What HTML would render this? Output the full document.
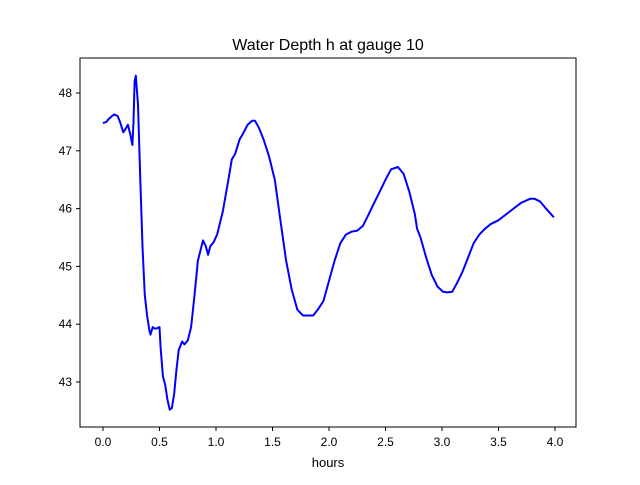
<!DOCTYPE html>
<html><head><meta charset="utf-8"><style>
body{margin:0;background:#fff;}
svg text{font-family:"Liberation Sans","DejaVu Sans",sans-serif;fill:#000;}
</style></head><body>
<svg id="chart" width="640" height="480" xmlns="http://www.w3.org/2000/svg">
<rect width="640" height="480" fill="#fff"/>
<text x="328" y="50" font-size="16" text-anchor="middle">Water Depth h at gauge 10</text>
<g id="plot"></g>
<rect x="80" y="58" width="496" height="369" fill="none" stroke="#000" stroke-width="1"/>
<text x="328" y="467" font-size="13" text-anchor="middle">hours</text>
</svg>
<script>
const times=[0,0.03,0.05,0.08,0.1,0.13,0.15,0.18,0.2,0.22,0.24,0.26,0.27,0.28,0.29,0.31,0.33,0.35,0.37,0.39,0.41,0.42,0.44,0.46,0.48,0.5,0.51,0.53,0.55,0.57,0.59,0.61,0.63,0.65,0.67,0.7,0.72,0.75,0.78,0.81,0.84,0.885,0.91,0.93,0.95,0.98,1.01,1.06,1.11,1.14,1.17,1.21,1.24,1.28,1.32,1.345,1.38,1.42,1.47,1.52,1.57,1.62,1.67,1.72,1.77,1.82,1.86,1.9,1.95,2.0,2.05,2.1,2.15,2.2,2.25,2.3,2.35,2.4,2.45,2.5,2.55,2.61,2.66,2.71,2.76,2.78,2.81,2.86,2.91,2.96,3.01,3.05,3.09,3.13,3.18,3.23,3.28,3.33,3.38,3.43,3.5,3.6,3.7,3.78,3.82,3.87,3.92,3.99];
const depths=[47.48,47.5,47.55,47.6,47.63,47.6,47.5,47.32,47.38,47.45,47.3,47.1,47.5,48.2,48.3,47.8,46.5,45.3,44.5,44.15,43.9,43.82,43.95,43.92,43.93,43.95,43.6,43.1,42.95,42.7,42.52,42.55,42.8,43.2,43.55,43.7,43.65,43.72,43.95,44.5,45.1,45.45,45.35,45.2,45.35,45.42,45.55,45.95,46.5,46.85,46.95,47.2,47.3,47.45,47.52,47.52,47.4,47.2,46.9,46.5,45.8,45.1,44.6,44.25,44.15,44.15,44.15,44.25,44.4,44.75,45.1,45.4,45.55,45.6,45.62,45.7,45.9,46.1,46.3,46.5,46.68,46.72,46.6,46.3,45.9,45.65,45.5,45.15,44.85,44.65,44.56,44.55,44.56,44.7,44.9,45.15,45.4,45.55,45.65,45.73,45.8,45.95,46.1,46.17,46.17,46.12,46.0,45.85];
const xTicks=[0,0.5,1,1.5,2,2.5,3,3.5,4];
const yTicks=[43,44,45,46,47,48];
const xScale=v=>103+v*113;
const yScale=v=>93+(48-v)*57.8;
const NS="http://www.w3.org/2000/svg";
const g=document.getElementById('plot');
function mk(t,a){const e=document.createElementNS(NS,t);for(const k in a)e.setAttribute(k,a[k]);return e;}
xTicks.forEach(v=>{
 const x=xScale(v);
 const tk=mk('line',{x1:x,x2:x,y1:427,y2:431,stroke:'#000'});
 
 
 g.appendChild(tk);
 const t=mk('text',{x:x,y:446,'font-size':12,'text-anchor':'middle'});
 t.textContent=v.toFixed(1);
 
 
 g.appendChild(t);
});
yTicks.forEach(v=>{
 const y=yScale(v);
 const tk=mk('line',{x1:76,x2:80,y1:y,y2:y,stroke:'#000'});
 
 
 g.appendChild(tk);
 const t=mk('text',{x:72,y:y+4,'font-size':12,'text-anchor':'end'});
 t.textContent=v;
 
 
 g.appendChild(t);
});
const pts=times.map((t,i)=>xScale(t).toFixed(1)+','+yScale(depths[i]).toFixed(1)).join(' ');
const line=mk('polyline',{points:pts,fill:'none',stroke:'#0000ff','stroke-width':2,'stroke-linejoin':'round'});


g.appendChild(line);
</script>
</body></html>
